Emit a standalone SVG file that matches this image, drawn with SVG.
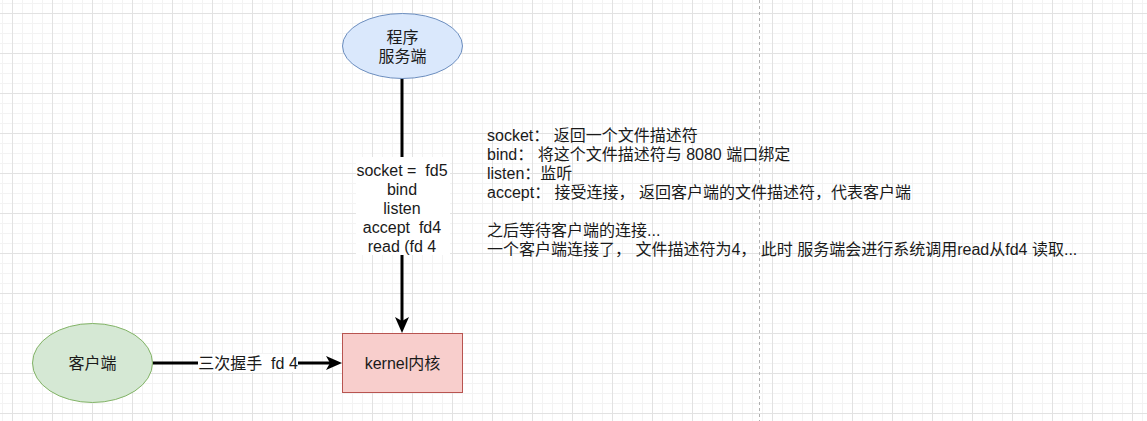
<svg xmlns="http://www.w3.org/2000/svg" width="1147" height="421" viewBox="0 0 1147 421">
  <defs>
    <pattern id="grid" patternUnits="userSpaceOnUse" x="12" y="13" width="40" height="40">
      <rect x="10" y="0" width="1" height="40" fill="#f3f3f3"/>
      <rect x="20" y="0" width="1" height="40" fill="#f3f3f3"/>
      <rect x="30" y="0" width="1" height="40" fill="#f3f3f3"/>
      <rect x="0" y="10" width="40" height="1" fill="#f3f3f3"/>
      <rect x="0" y="20" width="40" height="1" fill="#f3f3f3"/>
      <rect x="0" y="30" width="40" height="1" fill="#f3f3f3"/>
      <rect x="0" y="0" width="1" height="40" fill="#e2e2e2"/>
      <rect x="0" y="0" width="40" height="1" fill="#e2e2e2"/>
    </pattern>
    <marker id="arr" viewBox="0 0 16 14" refX="6" refY="7" markerWidth="16" markerHeight="14" orient="auto" markerUnits="userSpaceOnUse">
      <path d="M0,0 L16,7 L0,14 L4,7 Z" fill="#000"/>
    </marker>
  </defs>
  <style>
    text { font-family: "Liberation Sans", Arial, "Noto Sans CJK SC", sans-serif; font-size: 16px; fill: #1a1a1a; white-space: pre; }
    .c { text-anchor: middle; dominant-baseline: central; }
    .edge { stroke: #000; stroke-width: 3; fill: none; }
    .lblbg { fill: #fff; }
  </style>
  <rect width="1147" height="421" fill="#fff"/>
  <rect width="1147" height="421" fill="url(#grid)"/>
  <line x1="759.5" y1="0" x2="759.5" y2="421" stroke="#b0b0b0" stroke-width="1" stroke-dasharray="3 3"/>

  <g id="connectors">
    <line class="edge" x1="402" y1="78" x2="402" y2="323" marker-end="url(#arr)"/>
    <rect class="lblbg" x="356" y="157" width="94" height="98"/>
    <text class="c" x="402" y="170">socket =  fd5</text>
    <text class="c" x="402" y="189">bind</text>
    <text class="c" x="402" y="208">listen</text>
    <text class="c" x="402" y="227">accept  fd4</text>
    <text class="c" x="402" y="246">read (fd 4</text>

    <line class="edge" x1="152.5" y1="363" x2="332" y2="363" marker-end="url(#arr)"/>
    <rect class="lblbg" x="198" y="354" width="100" height="18"/>
    <text class="c" x="248" y="363">三次握手  fd 4</text>
  </g>

  <g id="server">
    <ellipse cx="402.5" cy="46" rx="60" ry="32.5" fill="#dae8fc" stroke="#6c8ebf" stroke-width="1"/>
    <text class="c" x="402.5" y="37.5">程序</text>
    <text class="c" x="402.5" y="56.5">服务端</text>
  </g>

  <g id="client">
    <ellipse cx="92.5" cy="363" rx="60" ry="39.5" fill="#d5e8d4" stroke="#82b366" stroke-width="1"/>
    <text class="c" x="92.5" y="363">客户端</text>
  </g>

  <g id="kernel">
    <rect x="342.5" y="333.5" width="120" height="59" fill="#f8cecc" stroke="#b85450" stroke-width="1"/>
    <text class="c" x="402.5" y="363">kernel内核</text>
  </g>

  <g id="notes">
    <text x="487" y="135" dominant-baseline="central">socket： 返回一个文件描述符</text>
    <text x="487" y="154" dominant-baseline="central">bind： 将这个文件描述符与 8080 端口绑定</text>
    <text x="487" y="173" dominant-baseline="central">listen：监听</text>
    <text x="487" y="192" dominant-baseline="central">accept： 接受连接， 返回客户端的文件描述符，代表客户端</text>
    <text x="487" y="230" dominant-baseline="central">之后等待客户端的连接...</text>
    <text x="487" y="249" dominant-baseline="central">一个客户端连接了， 文件描述符为4， 此时 服务端会进行系统调用read从fd4 读取...</text>
  </g>
</svg>
